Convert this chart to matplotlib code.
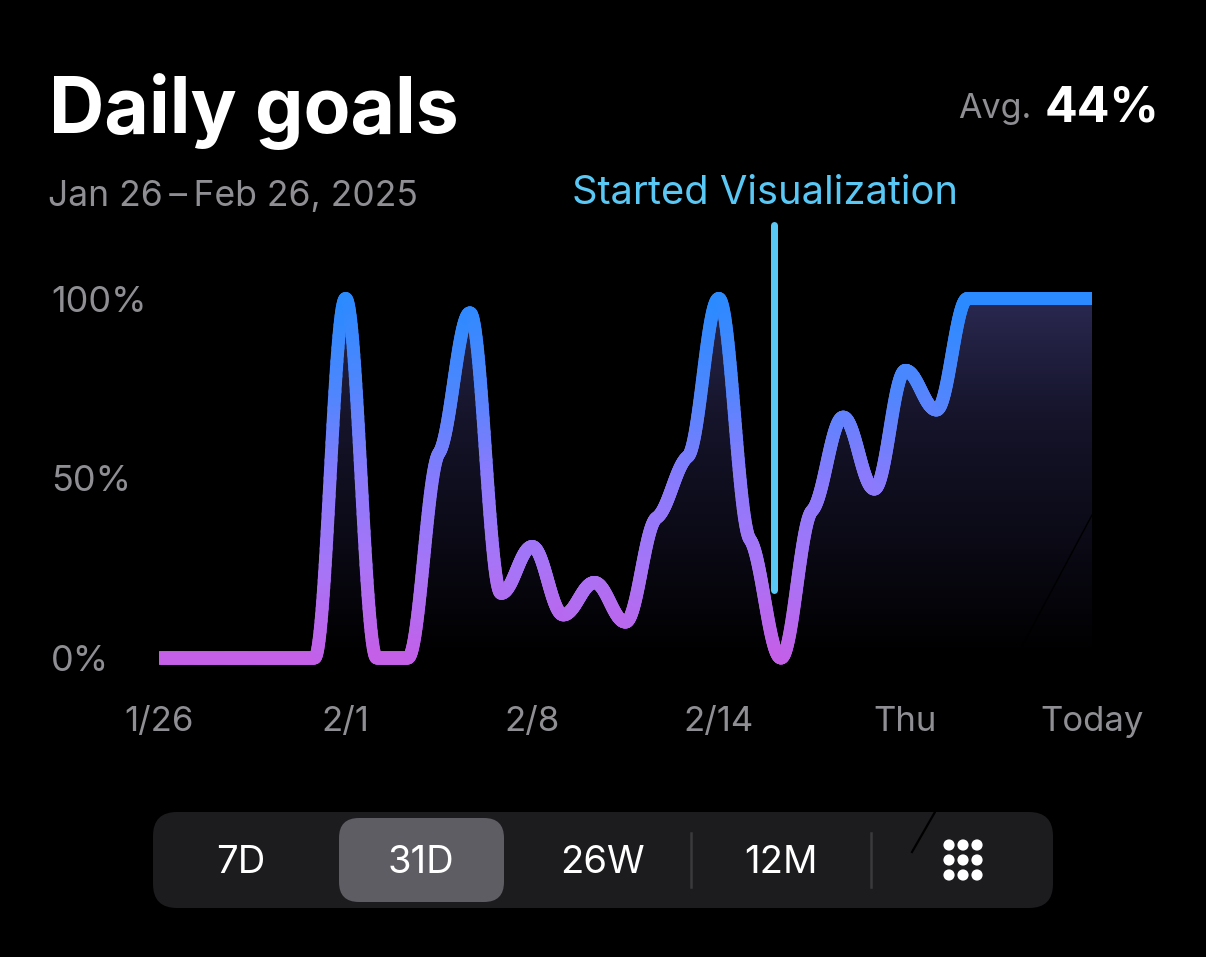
import numpy as np
import matplotlib
matplotlib.use("Agg")
import matplotlib.pyplot as plt
from matplotlib.collections import LineCollection
from matplotlib.colors import LinearSegmentedColormap
from matplotlib.patches import FancyBboxPatch, Circle

title = "Daily goals"
subtitle = "Jan 26\u2009–\u2009Feb 26, 2025"
avg_label = "Avg."
avg_value = "44%"
note_label = "Started Visualization"
days = list(range(31))
goal_pct = [0, 0, 0, 0, 0, 0, 100, 0, 0, 57, 96, 18, 31, 12, 21, 10, 39, 56, 100, 33,
            0, 41, 67, 47, 80, 69, 100, 100, 100, 100, 100]
x_tick_pos = [0, 6, 12, 18, 24, 30]
x_tick_labels = ["1/26", "2/1", "2/8", "2/14", "Thu", "Today"]
y_tick_pos = [0, 50, 100]
y_tick_labels = ["0%", "50%", "100%"]
note_x = 19.77
note_y = [19, 120.5]
buttons = ["7D", "31D", "26W", "12M"]

W, H = 1206, 957
FONT = "Inter"
GREY = "#8e8e93"
plt.rcParams["font.family"] = [FONT, "DejaVu Sans"]


def smooth(x, y, per=60, a=0.38, tan=0.25):
    # Bezier segments through the daily values, nearly flat at every point
    x, y = np.asarray(x, float), np.asarray(y, float)
    h = np.diff(x)
    d = np.diff(y) / h
    m = np.zeros_like(y)
    for i in range(1, len(y) - 1):
        if d[i - 1] * d[i] > 0:
            m[i] = tan * 2 * d[i - 1] * d[i] / (d[i - 1] + d[i])
    xs, ys = [], []
    t = np.linspace(0, 1, per, endpoint=False)
    b0, b1, b2, b3 = (1 - t) ** 3, 3 * t * (1 - t) ** 2, 3 * t ** 2 * (1 - t), t ** 3
    for i in range(len(h)):
        p1x, p1y = x[i] + a * h[i], y[i] + a * h[i] * m[i]
        p2x, p2y = x[i + 1] - a * h[i], y[i + 1] - a * h[i] * m[i + 1]
        xs.append(b0 * x[i] + b1 * p1x + b2 * p2x + b3 * x[i + 1])
        ys.append(b0 * y[i] + b1 * p1y + b2 * p2y + b3 * y[i + 1])
    return np.r_[np.concatenate(xs), x[-1]], np.r_[np.concatenate(ys), y[-1]]


fig = plt.figure(figsize=(W / 100, H / 100), dpi=100, facecolor="black")

# pixel-space layer for the interface furniture
ui = fig.add_axes([0, 0, 1, 1], zorder=0)
ui.set_xlim(0, W)
ui.set_ylim(H, 0)
ui.axis("off")

# chart axes: x 0..30 -> 159..1092 px, y 0..100 -> 658..298.5 px
px_top, px_bot = 205, 700
ppu = (658 - 298.5) / 100
ax = fig.add_axes([159 / W, 1 - px_bot / H, (1092 - 159) / W, (px_bot - px_top) / H],
                  facecolor="none", zorder=1)
ax.set_xlim(0, 30)
ax.set_ylim((658 - px_bot) / ppu, (658 - px_top) / ppu)
for s in ax.spines.values():
    s.set_visible(False)

sx, sy = smooth(days, goal_pct)

# area gradient
area_cmap = LinearSegmentedColormap.from_list("area", ["#000000", "#0b0a16", "#15142a", "#2a2850"])
im = ax.imshow(np.linspace(100, 0, 256).reshape(-1, 1), extent=[0, 30, 0, 100], aspect="auto",
               cmap=area_cmap, vmin=0, vmax=100, zorder=1)
poly = ax.fill_between(sx, 0, sy, color="none")
im.set_clip_path(poly.get_paths()[0], transform=ax.transData)
ax.set_xlim(0, 30)
ax.set_ylim((658 - px_bot) / ppu, (658 - px_top) / ppu)

# gradient line
line_cmap = LinearSegmentedColormap.from_list(
    "line", ["#c45fe8", "#a874f6", "#8a7afc", "#4f86fd", "#2b8aff"])
pts = np.column_stack([sx, sy])
segs = np.stack([pts[:-1], pts[1:]], axis=1)
lc = LineCollection(segs, cmap=line_cmap, norm=plt.Normalize(0, 100), linewidths=13 * 0.72,
                    capstyle="round", joinstyle="round", zorder=3)
lc.set_array((sy[:-1] + sy[1:]) / 2)
lc.set_snap(False)
ax.add_collection(lc)

# marker
ax.plot([note_x, note_x], note_y, color="#5ac8f5", lw=7 * 0.72, solid_capstyle="round", zorder=4, clip_on=False)
ui.text(765, 194, note_label, color="#5ac8f5", fontsize=28.7, ha="center", va="center")

# ticks
ax.set_xticks(x_tick_pos, x_tick_labels)
ax.set_yticks(y_tick_pos, y_tick_labels)
ax.tick_params(axis="both", length=0, labelcolor=GREY, labelsize=25)
ax.tick_params(axis="y", pad=108 * 0.72, labelsize=26)
for t in ax.get_yticklabels():
    t.set_ha("left")
ax.xaxis.set_tick_params(pad=4.5)

# image scratches
fig.add_artist(plt.Line2D([1092 / W, 1020 / W], [1 - 515 / H, 1 - 650 / H], color="#000000", lw=1.0, zorder=6))

# headings
ui.text(49, 111, title, color="white", fontsize=55.3, fontweight="bold", ha="left", va="center")
ui.text(48, 197, subtitle, color=GREY, fontsize=25.6, ha="left", va="center")
ui.text(1031, 109, avg_label, color=GREY, fontsize=24.5, ha="right", va="center")
ui.text(1159, 109, avg_value, color="white", fontsize=35, fontweight="bold", ha="right", va="center")

# segmented control
ui.add_patch(FancyBboxPatch((153 + 24, 812 + 24), 900 - 48, 96 - 48, boxstyle="round,pad=24",
                            fc="#1c1c1f", ec="none"))
ui.add_patch(FancyBboxPatch((339 + 20, 818 + 20), 165 - 40, 84 - 40, boxstyle="round,pad=20",
                            fc="#5e5d63", ec="none"))
for bx, label in zip([241, 421, 602, 781], buttons):
    ui.text(bx, 863, label, color="white", fontsize=27.5, ha="center", va="center")
for sep in [691, 871]:
    ui.plot([sep, sep], [833, 887], color="#3a3a3d", lw=1.8)
for dy in [845, 860, 875]:
    for dx in [949, 963, 977]:
        ui.add_patch(Circle((dx, dy), 5.6, fc="white", ec="none"))
ui.plot([935, 912], [812, 852], color="#000000", lw=1.6)

fig.savefig("out.png", dpi=100, facecolor="black")
